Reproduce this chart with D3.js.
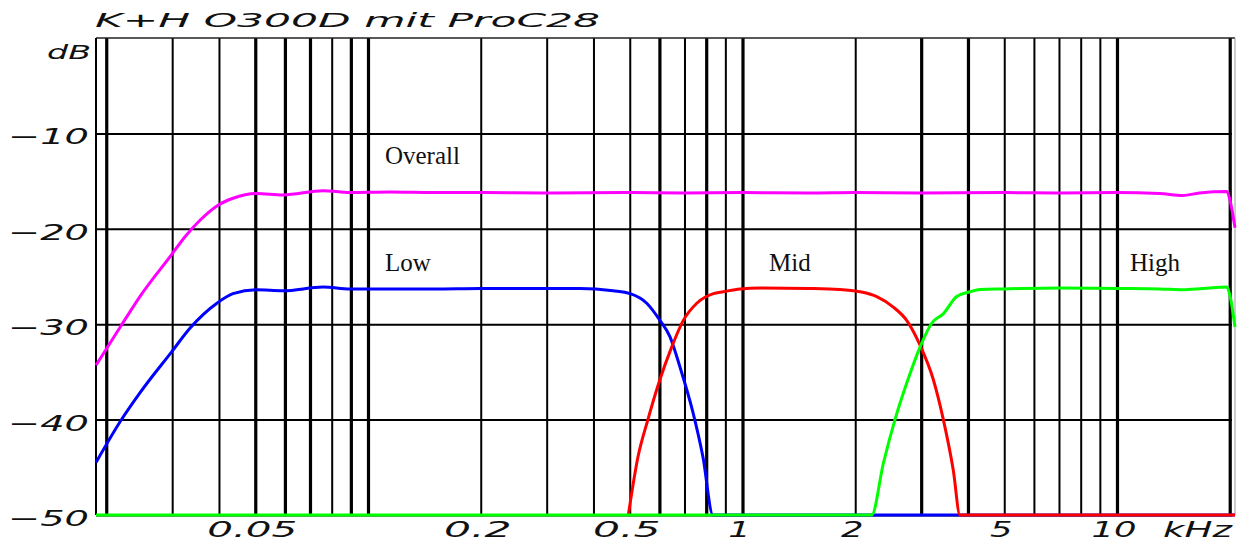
<!DOCTYPE html>
<html>
<head>
<meta charset="utf-8">
<script src="https://cdn.jsdelivr.net/npm/d3@7"></script>
<style>
  body { margin: 0; background: #fff; }
  svg { display: block; }
</style>
</head>
<body>
<svg id="chart" width="1240" height="545"></svg>
<script>
// measured responses, [frequency in kHz, level in dB]
const overall = [
  [0.01878, -34.3], [0.0218, -30.3], [0.0246, -27.1], [0.0299, -22.7], [0.0325, -20.8],
  [0.0356, -19.1], [0.0395, -17.6], [0.0436, -16.8], [0.0504, -16.3], [0.0593, -16.45],
  [0.0759, -16.0], [0.0895, -16.2], [0.1145, -16.15], [0.15, -16.2], [0.2, -16.2],
  [0.3, -16.25], [0.5, -16.2], [0.7, -16.25], [1, -16.2], [1.5, -16.25], [2, -16.2],
  [3, -16.25], [5, -16.2], [7, -16.25], [10, -16.2], [13, -16.3], [15, -16.5],
  [16.6, -16.25], [19.67, -16.1], [20.03, -17.0], [20.66, -19.9]
]
const low = [
  [0.01878, -44.5], [0.0218, -40.2], [0.0246, -37.2], [0.0299, -32.9], [0.0335, -30.4],
  [0.0395, -27.8], [0.0436, -26.8], [0.0504, -26.4], [0.0593, -26.5], [0.0759, -26.1],
  [0.0895, -26.3], [0.1145, -26.3], [0.15, -26.3], [0.2, -26.25], [0.3, -26.25],
  [0.368, -26.25], [0.451, -26.5], [0.501, -26.8], [0.555, -27.8], [0.602, -29.6],
  [0.640, -31.3], [0.681, -34.5], [0.738, -39.3], [0.784, -43.9], [0.834, -50], [20.66, -50]
]
const mid = [
  [0.4956, -50], [0.526, -43.9], [0.559, -40], [0.602, -35.8], [0.647, -32.4],
  [0.695, -29.6], [0.755, -27.8], [0.836, -26.8], [0.889, -26.6], [0.985, -26.3],
  [1.114, -26.2], [1.5, -26.25], [1.821, -26.35], [2.060, -26.6], [2.283, -27.1],
  [2.527, -28.2], [2.744, -29.6], [2.979, -32.2], [3.232, -35.8], [3.438, -40],
  [3.655, -45.3], [3.808, -50], [20.66, -50]
]
const high = [
  [0.01878, -50], [2.213, -50], [2.377, -44.6], [2.554, -40], [2.744, -36.2],
  [2.979, -32.4], [3.200, -29.9], [3.438, -28.9], [3.733, -27.1], [4.052, -26.6],
  [4.308, -26.35], [5, -26.3], [7, -26.2], [10, -26.25], [13, -26.3], [15, -26.4],
  [17, -26.25], [19.67, -26.1], [20.03, -27.0], [20.66, -30.3]
]

const gridFreqs = [0.02, 0.03, 0.04, 0.05, 0.06, 0.07, 0.08, 0.09,
  0.1, 0.2, 0.3, 0.4, 0.5, 0.6, 0.7, 0.8, 0.9,
  1, 2, 3, 4, 5, 6, 7, 8, 9, 10, 20]
const xTicks = [0.05, 0.2, 0.5, 1, 2, 5, 10]
const xTickLabels = ['0.05', '0.2', '0.5', '1', '2', '5', '10']
const dbTicks = [-10, -20, -30, -40, -50]
const dbTickLabels = ['\u221210', '\u221220', '\u221230', '\u221240', '\u221250']
const title = 'K+H O300D mit ProC28'

// the plotter drew some grid lines heavier than others
const heavy = new Set([0.02, 0.05, 0.06, 0.07, 0.09, 0.1, 0.6, 0.8, 1, 3, 4, 10, 20])

const svg = d3.select('#chart')
const x = d3.scaleLog().domain([0.01878, 20.66]).range([96, 1235])
const y = d3.scaleLinear().domain([-50, 0]).range([515, 38])

const plotFont = 'DejaVu Sans, sans-serif'

svg.append('rect').attr('width', 1240).attr('height', 545).attr('fill', '#fff')

// vertical grid
const gx = svg.append('g')
    .attr('transform', `translate(0,${y(-50)})`)
    .call(d3.axisBottom(x).tickValues(gridFreqs).tickSize(-(y(-50) - y(0))).tickFormat(''))
gx.select('.domain').remove()
gx.selectAll('.tick line')
    .attr('stroke', '#000')
    .attr('stroke-width', d => heavy.has(d) ? 3.2 : 2)

// horizontal grid
const gy = svg.append('g')
    .attr('transform', `translate(${x.range()[0]},0)`)
    .call(d3.axisLeft(y).tickValues(dbTicks).tickSize(-(x.range()[1] - 3 - x.range()[0])).tickFormat(''))
gy.select('.domain').remove()
gy.selectAll('.tick line').attr('stroke', '#000').attr('stroke-width', 2)

// frame
svg.append('line')
    .attr('x1', x.range()[0]).attr('x2', x.range()[1])
    .attr('y1', y(0)).attr('y2', y(0))
    .attr('stroke', '#222').attr('stroke-width', 1.6)
svg.append('line')
    .attr('x1', x.range()[0]).attr('x2', x.range()[0])
    .attr('y1', y(0)).attr('y2', y(-50))
    .attr('stroke', '#000').attr('stroke-width', 2)
svg.append('line')
    .attr('x1', x.range()[1]).attr('x2', x.range()[1])
    .attr('y1', y(0)).attr('y2', y(-50))
    .attr('stroke', '#999').attr('stroke-width', 1)

// curves
const line = d3.line()
    .x(d => x(d[0]))
    .y(d => y(Math.max(d[1], -50)))
    .curve(d3.curveMonotoneX)

const series = [
  { name: 'Low', data: low, color: '#0000ff', at: [0.111, -24.4] },
  { name: 'Mid', data: mid, color: '#ff0000', at: [1.177, -24.4] },
  { name: 'High', data: high, color: '#00ff00', at: [10.83, -24.4] },
  { name: 'Overall', data: overall, color: '#ff00ff', at: [0.111, -13.2] }
]

svg.append('g').selectAll('path')
  .data(series)
  .enter().append('path')
    .attr('d', d => line(d.data))
    .attr('fill', 'none')
    .attr('stroke', d => d.color)
    .attr('stroke-width', 3)
    .attr('stroke-linejoin', 'round')

svg.append('g').selectAll('text')
  .data(series)
  .enter().append('text')
    .attr('x', d => x(d.at[0]))
    .attr('y', d => y(d.at[1]))
    .attr('font-family', 'Liberation Serif, serif')
    .attr('font-size', 25)
    .attr('fill', '#111')
    .text(d => d.name)

// plotter style lettering
function plotText(sel, len) {
  sel.attr('font-family', plotFont)
     .attr('font-style', 'italic')
     .attr('font-size', 20)
     .attr('fill', '#111')
  if (len) sel.attr('textLength', len).attr('lengthAdjust', 'spacingAndGlyphs')
  return sel
}

plotText(svg.append('text').attr('x', 95).attr('y', 27).text(title), 505)
plotText(svg.append('text').attr('x', 91).attr('y', 59).attr('text-anchor', 'end').text('dB'), 44)

dbTicks.forEach((v, i) => {
  plotText(svg.append('text')
      .attr('x', 89).attr('y', y(v) + 11)
      .attr('text-anchor', 'end')
      .text(dbTickLabels[i]), 81)
      .attr('font-size', 22)
})

xTicks.forEach((v, i) => {
  const s = xTickLabels[i]
  plotText(svg.append('text')
      .attr('x', x(v) - 3).attr('y', 537)
      .attr('text-anchor', 'middle')
      .text(s), s.length * 22.5)
      .attr('font-size', 21)
})
plotText(svg.append('text').attr('x', 1163).attr('y', 537).text('kHz'), 69).attr('font-size', 21)
</script>
</body>
</html>
